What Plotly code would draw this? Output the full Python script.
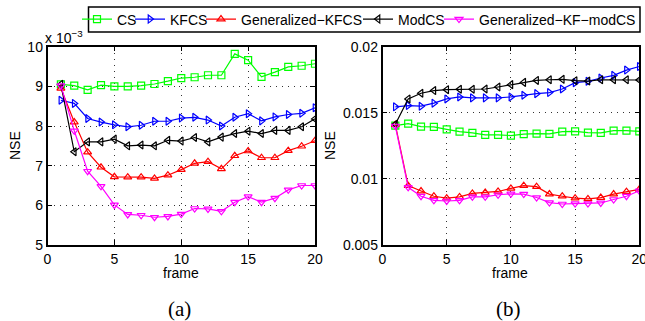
import plotly.graph_objects as go

frames = list(range(1, 21))

# Panel (a): NSE values in units of 1e-3
cs_a = [9.05, 9.02, 8.91, 9.03, 9.00, 9.00, 9.02, 9.06, 9.13, 9.21,
        9.23, 9.28, 9.28, 9.82, 9.66, 9.24, 9.36, 9.49, 9.52, 9.57]
kfcs_a = [8.65, 8.57, 8.19, 8.10, 8.03, 7.98, 8.02, 8.12, 8.12, 8.20,
          8.22, 8.15, 8.00, 8.22, 8.31, 8.13, 8.23, 8.29, 8.32, 8.46]
gkfcs_a = [8.95, 8.10, 7.34, 6.96, 6.72, 6.71, 6.71, 6.68, 6.76, 6.90,
           7.06, 7.10, 6.92, 7.25, 7.37, 7.20, 7.20, 7.38, 7.49, 7.63]
modcs_a = [9.05, 7.35, 7.60, 7.60, 7.67, 7.50, 7.52, 7.50, 7.64, 7.62,
           7.71, 7.60, 7.72, 7.81, 7.87, 7.81, 7.89, 7.89, 7.98, 8.18]
gkfmod_a = [9.02, 7.88, 6.86, 6.48, 6.01, 5.77, 5.75, 5.70, 5.72, 5.78,
            5.92, 5.91, 5.85, 6.08, 6.22, 6.08, 6.18, 6.39, 6.50, 6.50]

# Panel (b)
cs_b = [0.01403, 0.01418, 0.01395, 0.01393, 0.01375, 0.01358, 0.01348, 0.01333, 0.01333, 0.01328,
        0.01338, 0.01343, 0.01340, 0.01358, 0.01360, 0.01350, 0.01348, 0.01365, 0.01365, 0.01360]
kfcs_b = [0.01545, 0.01555, 0.01550, 0.01573, 0.01605, 0.01620, 0.01613, 0.01613, 0.01613, 0.01620,
          0.01633, 0.01645, 0.01653, 0.01680, 0.01728, 0.01738, 0.01763, 0.01783, 0.01823, 0.01850]
gkfcs_b = [0.01410, 0.00949, 0.00908, 0.00869, 0.00854, 0.00864, 0.00890, 0.00897, 0.00905, 0.00928,
           0.00949, 0.00941, 0.00885, 0.00869, 0.00854, 0.00849, 0.00859, 0.00885, 0.00903, 0.00921]
modcs_b = [0.01413, 0.01605, 0.01648, 0.01668, 0.01675, 0.01678, 0.01678, 0.01680, 0.01695, 0.01713,
           0.01730, 0.01745, 0.01750, 0.01753, 0.01743, 0.01740, 0.01750, 0.01750, 0.01750, 0.01748]
gkfmod_b = [0.01400, 0.00936, 0.00869, 0.00838, 0.00833, 0.00838, 0.00864, 0.00864, 0.00880, 0.00887,
            0.00885, 0.00859, 0.00821, 0.00810, 0.00813, 0.00813, 0.00818, 0.00844, 0.00869, 0.00910]

names = ["CS", "KFCS", "Generalized\u2212KFCS", "ModCS", "Generalized\u2212KF\u2212modCS"]
colors = ["#00ff00", "#0000ff", "#ff0000", "#000000", "#ff00ff"]
symbols = ["square-open", "triangle-right-open", "triangle-up-open", "triangle-left-open", "triangle-down-open"]
series_a = [cs_a, kfcs_a, gkfcs_a, modcs_a, gkfmod_a]
series_b = [cs_b, kfcs_b, gkfcs_b, modcs_b, gkfmod_b]

W, H = 645, 321
def px(x): return x / W
def py(y): return 1 - y / H

# legend text start positions (px) in the reference
legend_text_x = [117, 170, 241, 398, 479]

fig = go.Figure()
for i in range(5):
    lg = "legend" if i == 0 else f"legend{i+1}"
    fig.add_trace(go.Scatter(x=frames, y=series_a[i], mode="lines+markers", name=names[i],
                             line=dict(color=colors[i], width=1.2),
                             marker=dict(symbol=symbols[i], size=7, color=colors[i], line=dict(width=1.2)),
                             xaxis="x", yaxis="y", legend=lg))
    fig.add_trace(go.Scatter(x=frames, y=series_b[i], mode="lines+markers", name=names[i],
                             line=dict(color=colors[i], width=1.2),
                             marker=dict(symbol=symbols[i], size=7, color=colors[i], line=dict(width=1.2)),
                             xaxis="x2", yaxis="y2", showlegend=False))

font = dict(family="Liberation Sans, Arial, sans-serif", size=14, color="black")
axis_common = dict(showline=True, linecolor="black", linewidth=1.5, mirror="ticks",
                   ticks="inside", ticklen=5, tickcolor="black", tickwidth=1,
                   showgrid=True, gridcolor="#333333", griddash="1px,5px", gridwidth=1,
                   zeroline=False, tickfont=font, ticklabeloverflow="allow")

layout = dict(
    width=W, height=H, margin=dict(l=0, r=0, t=0, b=0, autoexpand=False),
    paper_bgcolor="white", plot_bgcolor="white", font=font,
    xaxis=dict(domain=[px(47.5), px(315)], range=[0, 20], tickvals=[0, 5, 10, 15, 20], **axis_common),
    yaxis=dict(domain=[py(245), py(46.7)], range=[5, 10], tickvals=[5, 6, 7, 8, 9, 10], **axis_common),
    xaxis2=dict(domain=[px(382.5), px(639.3)], range=[0, 20], tickvals=[0, 5, 10, 15, 20],
                anchor="y2", **axis_common),
    yaxis2=dict(domain=[py(245), py(46.7)], range=[0.005, 0.02],
                tickvals=[0.005, 0.01, 0.015, 0.02], ticktext=["0.005", "0.01", "0.015", "0.02"],
                anchor="x2", **axis_common),
)
for i in range(5):
    key = "legend" if i == 0 else f"legend{i+1}"
    layout[key] = dict(x=px(legend_text_x[i] - 40), y=py(19.5), xanchor="left", yanchor="middle",
                       orientation="h", bgcolor="rgba(0,0,0,0)", borderwidth=0,
                       font=font, itemwidth=30, tracegroupgap=0)
fig.update_layout(**layout)

fig.add_shape(type="rect", xref="paper", yref="paper", x0=px(88.5), x1=px(640), y0=py(32), y1=py(7),
              line=dict(color="black", width=1.5), fillcolor="rgba(0,0,0,0)")

serif = dict(family="Liberation Serif, Times New Roman, serif", size=21, color="black")
annots = [
    dict(x=px(43), y=py(37), text="x 10<sup>\u22123</sup>", xanchor="left"),
    dict(x=px(15), y=py(146), text="NSE", textangle=-90),
    dict(x=px(330), y=py(146), text="NSE", textangle=-90),
    dict(x=px(181), y=py(273), text="frame"),
    dict(x=px(510), y=py(273), text="frame"),
    dict(x=px(179), y=py(309), text="(a)", font=serif),
    dict(x=px(508), y=py(309), text="(b)", font=serif),
]
for a in annots:
    a.setdefault("font", font)
    a.setdefault("xanchor", "center")
    a.setdefault("yanchor", "middle")
    fig.add_annotation(xref="paper", yref="paper", showarrow=False, **a)

fig.write_html("out.html", post_script="document.body.style.margin='0';",
               config={"displayModeBar": False})
